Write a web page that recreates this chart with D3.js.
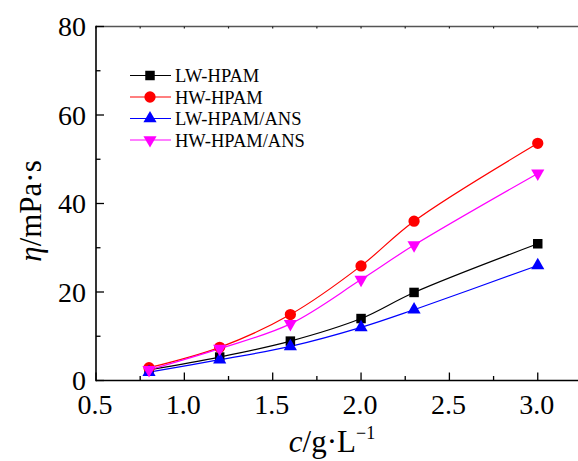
<!doctype html>
<html>
  <head>
    <script src="https://cdn.jsdelivr.net/npm/d3@7"></script>
    <style>
      body { margin: 0; background: #fff; }
      text { font-family: "Liberation Serif", "Times New Roman", serif; }
    </style>
  </head>
  <body>
    <svg id="chart" width="578" height="461"></svg>

    <script>
      // concentration (g/L) and viscosity (mPa.s)
      var conc = [0.8, 1.2, 1.6, 2.0, 2.3, 3.0];
      var lwHpam = [2.4, 5.3, 8.9, 14.0, 19.9, 30.9];
      var hwHpam = [2.9, 7.5, 14.9, 25.9, 36.0, 53.6];
      var lwHpamAns = [1.9, 4.7, 7.7, 12.0, 16.0, 26.0];
      var hwHpamAns = [2.4, 7.2, 12.8, 22.8, 30.6, 46.8];

      var seriesNames = ["LW-HPAM", "HW-HPAM", "LW-HPAM/ANS", "HW-HPAM/ANS"];
      var xTicks = [0.5, 1.0, 1.5, 2.0, 2.5, 3.0];
      var yTicks = [0, 20, 40, 60, 80];

      var series = [
        { name: seriesNames[0], values: lwHpam, color: "#000000", symbol: d3.symbolSquare, size: 90, rot: 0 },
        { name: seriesNames[1], values: hwHpam, color: "#ff0000", symbol: d3.symbolCircle, size: 100, rot: 0 },
        { name: seriesNames[2], values: lwHpamAns, color: "#0000ff", symbol: d3.symbolTriangle, size: 75, rot: 0 },
        { name: seriesNames[3], values: hwHpamAns, color: "#ff00ff", symbol: d3.symbolTriangle, size: 75, rot: 180 }
      ];

      var svg = d3.select("#chart");
      var padL = 96, padT = 26.5, padB = 380.5;

      var x = d3.scaleLinear().domain([0.5, 1.0]).range([padL, padL + 88.35]);
      var y = d3.scaleLinear().domain([0, 80]).range([padB, padT]);
      var xEnd = 578;

      // minor ticks
      var xMinor = d3.range(0.75, 3.3, 0.5);
      var yMinor = d3.range(10, 80, 20);

      var g = svg.append("g");

      // top border (gray) with small inward ticks
      g.append("line").attr("x1", padL).attr("x2", xEnd).attr("y1", padT).attr("y2", padT)
        .attr("stroke", "#555").attr("stroke-width", 1.5);
      g.selectAll(".ttick").data(xTicks.concat(xMinor)).enter().append("line")
        .attr("x1", function(d) { return x(d); }).attr("x2", function(d) { return x(d); })
        .attr("y1", padT).attr("y2", padT + 2)
        .attr("stroke", "#222").attr("stroke-width", 1.2);

      // bottom axis
      g.append("line").attr("x1", padL).attr("x2", xEnd).attr("y1", padB).attr("y2", padB)
        .attr("stroke", "#000").attr("stroke-width", 1.6);
      g.selectAll(".xmaj").data(xTicks).enter().append("line")
        .attr("x1", function(d) { return x(d); }).attr("x2", function(d) { return x(d); })
        .attr("y1", padB).attr("y2", padB - 8)
        .attr("stroke", "#000").attr("stroke-width", 1.3);
      g.selectAll(".xmin").data(xMinor).enter().append("line")
        .attr("x1", function(d) { return x(d); }).attr("x2", function(d) { return x(d); })
        .attr("y1", padB).attr("y2", padB - 4.5)
        .attr("stroke", "#000").attr("stroke-width", 1.3);
      g.selectAll(".xlab").data(xTicks).enter().append("text")
        .attr("x", function(d) { return x(d) - 1; }).attr("y", 414)
        .attr("text-anchor", "middle").attr("font-size", 28)
        .text(function(d) { return d.toFixed(1); });

      // left axis
      g.append("line").attr("x1", padL).attr("x2", padL).attr("y1", padT - 0.7).attr("y2", padB + 0.8)
        .attr("stroke", "#000").attr("stroke-width", 1.6);
      g.selectAll(".ymaj").data(yTicks).enter().append("line")
        .attr("x1", padL).attr("x2", padL + 8)
        .attr("y1", function(d) { return y(d); }).attr("y2", function(d) { return y(d); })
        .attr("stroke", "#000").attr("stroke-width", 1.3);
      g.selectAll(".ymin").data(yMinor).enter().append("line")
        .attr("x1", padL).attr("x2", padL + 4.5)
        .attr("y1", function(d) { return y(d); }).attr("y2", function(d) { return y(d); })
        .attr("stroke", "#000").attr("stroke-width", 1.3);
      g.selectAll(".ylab").data(yTicks).enter().append("text")
        .attr("x", 86).attr("y", function(d) { return y(d) + 9.5; })
        .attr("text-anchor", "end").attr("font-size", 28)
        .text(function(d) { return d; });

      // axis titles
      var xt = svg.append("text").attr("x", 332).attr("y", 452)
        .attr("text-anchor", "middle").attr("font-size", 31);
      xt.append("tspan").attr("font-style", "italic").text("c");
      xt.append("tspan").text("/g\u00b7L");
      xt.append("tspan").attr("font-size", 18).attr("dy", -13).text("\u22121");

      var yt = svg.append("text")
        .attr("transform", "translate(41,211) rotate(-90)")
        .attr("text-anchor", "middle").attr("font-size", 31);
      yt.append("tspan").attr("font-style", "italic").text("\u03b7");
      yt.append("tspan").text("/mPa\u00b7s");

      // curves (smooth spline through the points)
      var line = d3.line()
        .x(function(d, i) { return x(conc[i]); })
        .y(function(d) { return y(d); })
        .curve(d3.curveCatmullRom.alpha(0.5));

      series.forEach(function(s) {
        svg.append("path").attr("d", line(s.values))
          .attr("fill", "none").attr("stroke", s.color).attr("stroke-width", 1.2);
      });

      series.forEach(function(s) {
        var sym = d3.symbol().type(s.symbol).size(s.size);
        svg.selectAll(null).data(s.values).enter().append("path")
          .attr("d", sym)
          .attr("transform", function(d, i) {
            return "translate(" + x(conc[i]) + "," + y(d) + ") rotate(" + s.rot + ")";
          })
          .attr("fill", s.color);
      });

      // legend
      var leg = svg.append("g");
      var rowY = [75.5, 97, 118.5, 140];
      series.forEach(function(s, i) {
        leg.append("line").attr("x1", 130).attr("x2", 171)
          .attr("y1", rowY[i]).attr("y2", rowY[i])
          .attr("stroke", s.color).attr("stroke-width", 1.2);
        leg.append("path").attr("d", d3.symbol().type(s.symbol).size(s.size)())
          .attr("transform", "translate(150," + rowY[i] + ") rotate(" + s.rot + ")")
          .attr("fill", s.color);
        leg.append("text").attr("x", 175).attr("y", rowY[i] + 6.5)
          .attr("font-size", 18.5).text(s.name);
      });
    </script>
  </body>
</html>
